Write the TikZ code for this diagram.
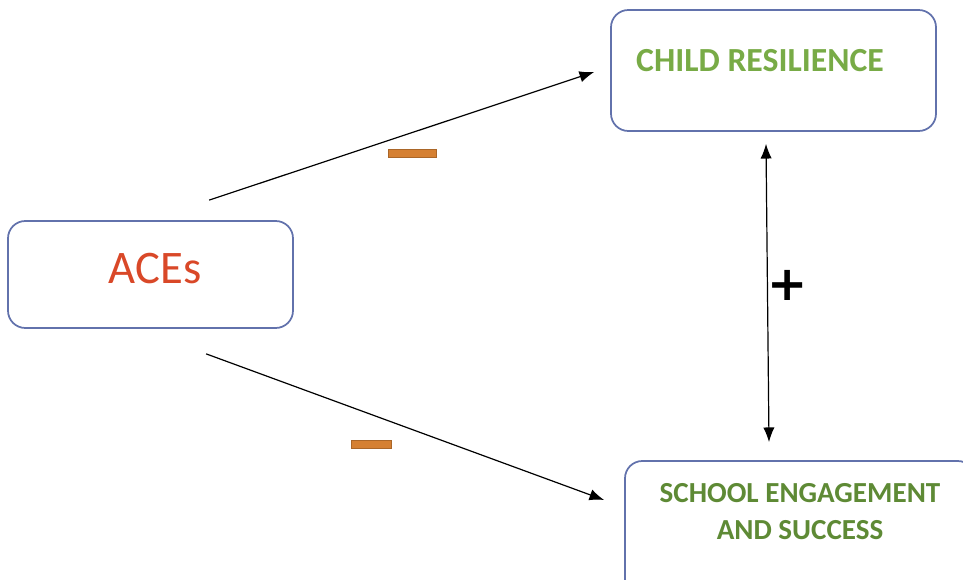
\documentclass[tikz,border=0pt]{standalone}
\usepackage{fontspec}
\setmainfont{Carlito}
\newfontfamily\signfont{DejaVu Sans}
\usetikzlibrary{arrows.meta,positioning,calc}
\definecolor{boxline}{RGB}{98,114,172}
\definecolor{acered}{RGB}{217,72,40}
\definecolor{leafgreen}{RGB}{120,171,70}
\definecolor{mossgreen}{RGB}{94,138,53}
\definecolor{minusorange}{RGB}{213,128,50}
\tikzset{
  factor/.style={draw=boxline,line width=1.3pt,rounded corners=13pt,inner sep=0pt},
  factorname/.style={inner sep=0pt,font=\bfseries},
  effect/.style={draw=minusorange!80!black,fill=minusorange,line width=0.4pt,
    inner sep=0pt,minimum height=6pt},
  model/.style={
    >={Latex[length=11pt,width=8.5pt]},line width=0.9pt
  }
}
\begin{document}
\begin{tikzpicture}[x=0.75pt,y=-0.75pt,model]
  \useasboundingbox (0,0) rectangle (963,580);
  \clip (0,0) rectangle (963,580);

  \node[factor,minimum width=213.75pt,minimum height=80.25pt] (aces) at (150.5,274.5) {};
  \node[factor,minimum width=243.75pt,minimum height=90.75pt] (resil) at (773.5,70.5) {};
  \node[factor,minimum width=262.5pt,minimum height=101.25pt] (school) at (800,528.5) {};

  \node[inner sep=0pt,text=acered,font=\fontsize{35}{40}\selectfont] (acesname) at (155,269) {ACEs};
  \node[factorname,text=leafgreen,font=\fontsize{25.3}{30}\selectfont\bfseries] (resilname) at (760,61) {CHILD RESILIENCE};
  \node[factorname,text=mossgreen,align=center,font=\fontsize{21.8}{27.8}\selectfont\bfseries] (schoolname) at (800,512) {SCHOOL ENGAGEMENT\\AND SUCCESS};

  \coordinate (a1) at ($(aces.north west)+(202,-20)$);
  \coordinate (b1) at ($(resil.west)+(-16,1.5)$);
  \coordinate (a2) at ($(aces.south west)+(199,25)$);
  \coordinate (b2) at ($(school.west)+(-20,-28.5)$);
  \coordinate (r1) at ($(resil.south)+(-7.5,12)$);
  \coordinate (s1) at ($(school.north)+(-31,-18)$);

  \draw[->] (a1) -- (b1);
  \draw[->] (a2) -- (b2);
  \draw[<->] (r1) -- (s1);

  \node[effect,minimum width=36pt] (minusup) at (412,153) {};
  \node[effect,minimum width=30pt] (minusdown) at (371,444) {};
  \node[inner sep=0pt,font=\signfont\bfseries\fontsize{36}{40}\selectfont] (plus) at (788,285) {+};
\end{tikzpicture}
\end{document}
